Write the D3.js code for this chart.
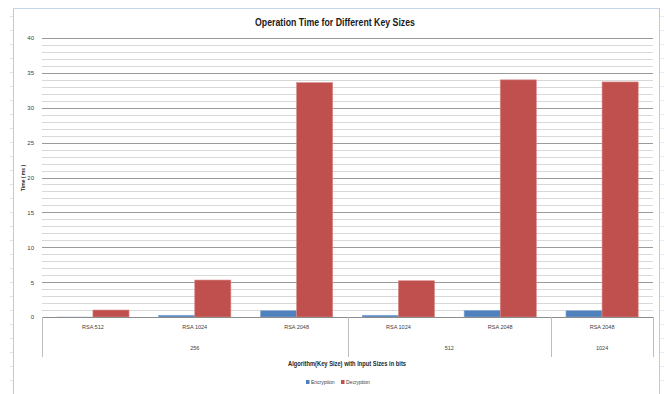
<!DOCTYPE html>
<html>
<head>
<meta charset="utf-8">
<script src="https://cdn.jsdelivr.net/npm/d3@7"></script>
<style>
  body { margin: 0; background: #fff; }
  svg text { font-family: "Liberation Sans Narrow", "Arial Narrow", "Liberation Sans", sans-serif; }
</style>
</head>
<body>
<div id="chart"></div>
<script>
// chart data
const categories = ["RSA 512", "RSA 1024", "RSA 2048", "RSA 1024", "RSA 2048", "RSA 2048"];
const groups = ["256", "512", "1024"];
const groupSizes = [3, 2, 1];
const series = ["Encryption", "Decryption"];
const encryption = [0.02, 0.25, 0.9, 0.25, 0.95, 0.9];
const decryption = [1.0, 5.3, 33.6, 5.2, 34.0, 33.7];
const yTicks = [0, 5, 10, 15, 20, 25, 30, 35, 40];

const colors = { Encryption: "#4f81bd", Decryption: "#c0504d" };

const w = 664, h = 394;
const plotLeft = 42, plotRight = 653, plotTop = 38, plotBottom = 317;

const svg = d3.select("#chart").append("svg")
  .attr("width", w)
  .attr("height", h);

svg.append("rect").attr("width", w).attr("height", h).attr("fill", "#fff");

// chart frame
svg.append("line").attr("x1", 13.5).attr("x2", 13.5).attr("y1", 8).attr("y2", h)
  .attr("stroke", "#c8c8c8");
svg.append("line").attr("x1", 659.5).attr("x2", 659.5).attr("y1", 8).attr("y2", h)
  .attr("stroke", "#c8c8c8");
svg.append("line").attr("x1", 13).attr("x2", 659).attr("y1", 8.5).attr("y2", 8.5)
  .attr("stroke", "#c5d5e8");
// spreadsheet row marks outside the chart
for (let i = 0; i < 28; i++) {
  svg.append("line").attr("x1", 10).attr("x2", 13)
    .attr("y1", 16.5 + i * 14).attr("y2", 16.5 + i * 14).attr("stroke", "#e2e2e2");
  svg.append("line").attr("x1", 660).attr("x2", 664)
    .attr("y1", 16.5 + i * 14).attr("y2", 16.5 + i * 14).attr("stroke", "#e6ecf4");
}

const x0 = d3.scaleBand().domain(d3.range(categories.length)).range([plotLeft, plotRight]);
const x1 = d3.scaleBand().domain(series).range([0, x0.bandwidth()])
  .paddingInner(0).paddingOuter(0.41);
const y = d3.scaleLinear().domain([0, 40]).range([plotBottom, plotTop]);

// minor gridlines
svg.append("g")
  .selectAll("line")
  .data(d3.range(1, 41).filter((v) => v % 5 !== 0))
  .enter()
  .append("line")
  .attr("x1", plotLeft).attr("x2", plotRight)
  .attr("y1", (d) => Math.round(y(d)) + 0.5)
  .attr("y2", (d) => Math.round(y(d)) + 0.5)
  .attr("stroke", "#d9d9d9");

// major gridlines
svg.append("g")
  .selectAll("line")
  .data(yTicks.slice(1))
  .enter()
  .append("line")
  .attr("x1", plotLeft).attr("x2", plotRight)
  .attr("y1", (d) => Math.round(y(d)) + 0.5)
  .attr("y2", (d) => Math.round(y(d)) + 0.5)
  .attr("stroke", "#9a9a9a");

// y axis labels
const yAxis = d3.axisLeft(y).tickValues(yTicks).tickSize(0).tickPadding(8);
svg.append("g")
  .attr("transform", `translate(${plotLeft},0)`)
  .call(yAxis)
  .call((g) => g.select(".domain").remove())
  .call((g) => g.selectAll("text").attr("font-size", 6).attr("fill", "#404040"))
  .attr("font-family", null);

// bars
const rows = categories.map((c, i) => ({ i, Encryption: encryption[i], Decryption: decryption[i] }));
const cat = svg.append("g").selectAll("g")
  .data(rows)
  .enter()
  .append("g")
  .attr("transform", (d) => `translate(${x0(d.i)},0)`);

cat.selectAll("rect")
  .data((d) => series.map((s) => ({ s, v: d[s] })))
  .enter()
  .append("rect")
  .attr("x", (d) => x1(d.s))
  .attr("width", x1.bandwidth())
  .attr("y", (d) => y(d.v))
  .attr("height", (d) => y(0) - y(d.v))
  .attr("fill", (d) => colors[d.s])
  .attr("stroke", (d) => d.s === "Decryption" ? "#d88a88" : "#8aaad4")
  .attr("stroke-width", (d) => d.v < 0.1 ? 0 : 0.6);

// x axis baseline
svg.append("line").attr("x1", plotLeft).attr("x2", plotRight)
  .attr("y1", plotBottom + 0.5).attr("y2", plotBottom + 0.5)
  .attr("stroke", "#8c8c8c");

// category labels
const xAxis = d3.axisBottom(x0).tickSize(0).tickPadding(8)
  .tickFormat((i) => categories[i]);
svg.append("g")
  .attr("transform", `translate(0,${plotBottom})`)
  .call(xAxis)
  .call((g) => g.select(".domain").remove())
  .call((g) => g.selectAll("text").attr("font-size", 5.5).attr("fill", "#404040"))
  .attr("font-family", null);

// group labels and separators
let start = 0;
const bounds = [0];
groups.forEach((gname, k) => {
  const end = start + groupSizes[k];
  const gx0 = x0(start);
  const gx1 = end < categories.length ? x0(end) : plotRight;
  svg.append("text")
    .attr("x", (gx0 + gx1) / 2)
    .attr("y", 350)
    .attr("text-anchor", "middle")
    .attr("font-size", 5.5)
    .attr("fill", "#404040")
    .text(gname);
  bounds.push(end);
  start = end;
});
svg.append("g").selectAll("line")
  .data(bounds)
  .enter()
  .append("line")
  .attr("x1", (d) => Math.round(d < categories.length ? x0(d) : plotRight) + 0.5)
  .attr("x2", (d) => Math.round(d < categories.length ? x0(d) : plotRight) + 0.5)
  .attr("y1", plotBottom)
  .attr("y2", 357)
  .attr("stroke", "#bdbdbd");

// titles (condensed to match the narrow original font)
svg.append("text")
  .attr("x", 335).attr("y", 26)
  .attr("text-anchor", "middle")
  .attr("font-size", 10.5)
  .attr("font-weight", "bold")
  .attr("fill", "#1a1a1a")
  .attr("textLength", 160)
  .attr("lengthAdjust", "spacingAndGlyphs")
  .text("Operation Time for Different Key Sizes");

svg.append("text")
  .attr("x", 347).attr("y", 366)
  .attr("text-anchor", "middle")
  .attr("font-size", 6.5)
  .attr("font-weight", "bold")
  .attr("fill", "#262626")
  .attr("textLength", 118)
  .attr("lengthAdjust", "spacingAndGlyphs")
  .text("Algorithm(Key Size) with Input Sizes in bits");

svg.append("text")
  .attr("transform", "translate(25,178) rotate(-90)")
  .attr("text-anchor", "middle")
  .attr("font-size", 5)
  .attr("font-weight", "bold")
  .attr("fill", "#262626")
  .text("Time ( ms )");

// legend
const legend = svg.append("g").attr("transform", "translate(306,381)");
const li = legend.selectAll("g")
  .data(series)
  .enter()
  .append("g")
  .attr("transform", (d, i) => `translate(${i * 35},0)`);
li.append("rect").attr("width", 3.5).attr("height", 4).attr("y", -1)
  .attr("fill", (d) => colors[d]);
li.append("text").attr("x", 5).attr("y", 3).attr("font-size", 5)
  .attr("fill", "#404040").text((d) => d);
</script>
</body>
</html>
